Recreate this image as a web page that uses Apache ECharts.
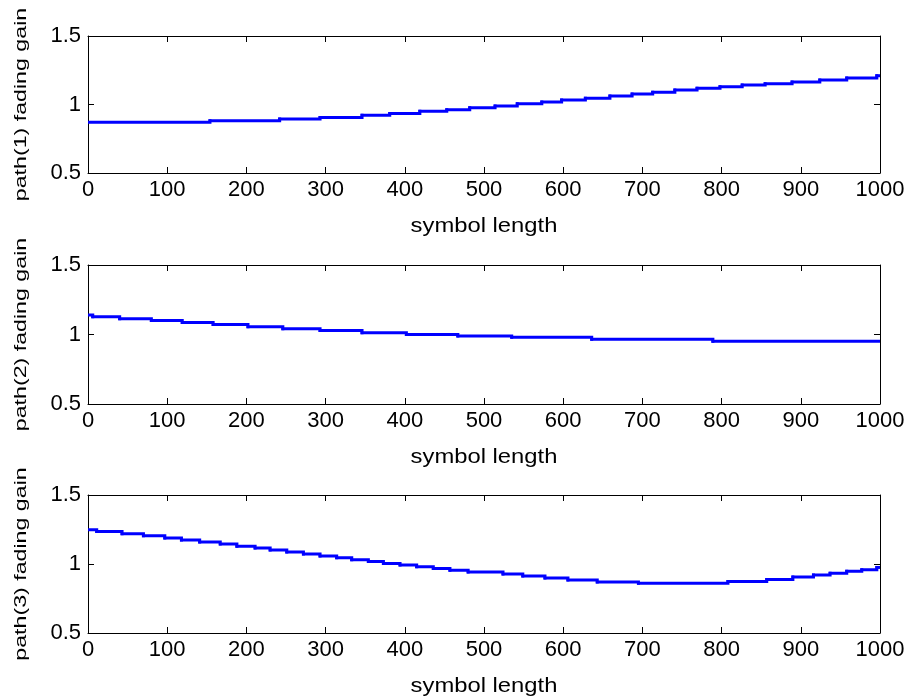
<!DOCTYPE html>
<html>
<head>
<meta charset="utf-8">
<script src="https://cdn.jsdelivr.net/npm/echarts@6/dist/echarts.min.js"></script>
<style>
html,body{margin:0;padding:0;background:#fff;}
#chart{width:910px;height:700px;}
</style>
</head>
<body>
<div id="chart"></div>
<script>
// symbol index where each held value starts, and the held fading gain
const path1Breaks = [0,154,242,293,346,381,419,453,482,514,542,573,598,628,659,687,713,741,769,798,826,855,889,924,958,996,1000];
const path1Gain   = [0.870,0.882,0.894,0.906,0.922,0.935,0.950,0.962,0.977,0.989,1.006,1.018,1.033,1.045,1.062,1.077,1.089,1.106,1.118,1.130,1.142,1.152,1.164,1.179,1.193,1.210,1.210];

const path2Breaks = [0,6,40,80,119,158,202,246,293,346,402,467,535,636,789,1000];
const path2Gain   = [1.140,1.128,1.113,1.100,1.086,1.072,1.055,1.041,1.029,1.012,1.000,0.990,0.980,0.966,0.951,0.951];

const path3Breaks = [0,11,43,70,97,118,141,167,188,211,230,251,272,293,314,333,354,373,394,415,436,457,480,524,549,577,606,643,695,808,857,890,916,937,958,977,996,1000];
const path3Gain   = [1.249,1.236,1.220,1.205,1.188,1.174,1.159,1.145,1.128,1.116,1.101,1.087,1.072,1.058,1.046,1.031,1.019,1.004,0.993,0.980,0.968,0.954,0.942,0.928,0.913,0.899,0.884,0.870,0.860,0.874,0.888,0.906,0.920,0.933,0.947,0.959,0.975,0.975];

const yLabels = ['path(1) fading gain','path(2) fading gain','path(3) fading gain'];
const xLabel = 'symbol length';

const FONT = '"Liberation Sans", Arial, Helvetica, sans-serif';
const grids = [
  {left:88, right:30, top:36, height:137},
  {left:88, right:30, top:265, height:139},
  {left:88, right:30, top:495, height:138}
];
const series = [[path1Breaks,path1Gain],[path2Breaks,path2Gain],[path3Breaks,path3Gain]];

// each item: [x start, held value, x next, next value] -> a held step drawn via axis scales
function stepRows(bx, gy) {
  const rows = [];
  for (let k = 0; k < bx.length - 1; k++) rows.push([bx[k], gy[k], bx[k+1], gy[k+1]]);
  return rows;
}

function renderStep(params, api) {
  const p0 = api.coord([api.value(0), api.value(1)]);
  const p1 = api.coord([api.value(2), api.value(1)]);
  const p2 = api.coord([api.value(2), api.value(3)]);
  return {
    type:'polyline',
    shape:{points:[p0, p1, p2]},
    style:{stroke:'#0000FF', lineWidth:3, fill:null, lineCap:'square', lineJoin:'miter'}
  };
}

const xAxes = [], yAxes = [], ser = [], graphic = [];
grids.forEach((g, i) => {
  const line = {show:true, onZero:false, lineStyle:{color:'#000', width:1}};
  const tick = {show:true, inside:true, length:6, lineStyle:{color:'#000', width:1}};
  xAxes.push({gridIndex:i, type:'value', position:'bottom', min:0, max:1000, interval:100,
    axisLine:line, axisTick:tick, splitLine:{show:false},
    axisLabel:{color:'#000', fontFamily:FONT, fontSize:22, margin:6, formatter:v => String(v)}});
  xAxes.push({gridIndex:i, type:'value', position:'top', min:0, max:1000, interval:100,
    axisLine:line, axisTick:tick, splitLine:{show:false}, axisLabel:{show:false}});
  yAxes.push({gridIndex:i, type:'value', position:'left', min:0.5, max:1.5, interval:0.5,
    axisLine:line, axisTick:tick, splitLine:{show:false},
    axisLabel:{color:'#000', fontFamily:FONT, fontSize:22, margin:7, formatter:v => String(v)}});
  yAxes.push({gridIndex:i, type:'value', position:'right', min:0.5, max:1.5, interval:0.5,
    axisLine:line, axisTick:tick, splitLine:{show:false}, axisLabel:{show:false}});
  const [bx, gy] = series[i];
  ser.push({type:'custom', xAxisIndex:2*i, yAxisIndex:2*i, renderItem:renderStep, clip:true,
    encode:{x:[0,2], y:[1,3]}, data:stepRows(bx, gy), z:5});
  const cy = g.top + g.height / 2;
  graphic.push({type:'text', x:21, y:cy, rotation:Math.PI/2, scaleX:1.45, scaleY:1.05,
    style:{text:yLabels[i], font:'16px ' + FONT, fill:'#000', textAlign:'center', textVerticalAlign:'middle', align:'center', verticalAlign:'middle'}});
  graphic.push({type:'text', x:484, y:g.top + g.height + 54, scaleX:1.22, scaleY:1,
    style:{text:xLabel, font:'19.5px ' + FONT, fill:'#000', textAlign:'center', textVerticalAlign:'middle', align:'center', verticalAlign:'middle'}});
});

const chart = echarts.init(document.getElementById('chart'), null, {renderer:'canvas'});
chart.setOption({
  backgroundColor:'#fff',
  animation:false,
  grid:grids,
  xAxis:xAxes,
  yAxis:yAxes,
  series:ser,
  graphic:graphic
});
</script>
</body>
</html>
